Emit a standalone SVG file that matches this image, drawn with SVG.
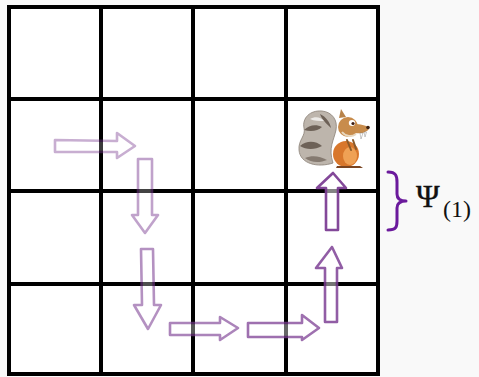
<svg xmlns="http://www.w3.org/2000/svg" width="479" height="377" viewBox="0 0 479 377">
  <defs>
    <style>
      .grid { stroke: #000; stroke-width: 4; fill: none; stroke-linecap: square; }
      .arrow { fill: #ffffff; fill-opacity: 0.55; stroke: #7d3f94; stroke-width: 2.6; stroke-linejoin: round; }
      .brace { fill: none; stroke: #6b1a9c; stroke-width: 3; stroke-linecap: round; stroke-linejoin: round; }
      .math { font-family: "Liberation Serif", "DejaVu Serif", serif; fill: #111; }
    </style>
  </defs>

  <!-- page background and board -->
  <rect x="0" y="0" width="479" height="377" fill="#f9f9f9"/>
  <rect x="9" y="7" width="369" height="367" fill="#ffffff"/>

  <!-- 4x4 board -->
  <g id="board" class="grid">
    <rect x="9" y="7" width="369" height="367"/>
    <line x1="101" y1="7" x2="101" y2="374"/>
    <line x1="193" y1="7" x2="193" y2="374"/>
    <line x1="286" y1="7" x2="286" y2="374"/>
    <line x1="9" y1="99" x2="378" y2="99"/>
    <line x1="9" y1="191" x2="378" y2="191"/>
    <line x1="9" y1="284" x2="378" y2="284"/>
  </g>

  <!-- path of moves, fading in towards the goal -->
  <g id="connectors">
    <polygon id="move1" class="arrow" opacity="0.42" points="55,140 117,141 117,133 135,146 117,158 117,152 55,152"/>
    <polygon id="move2" class="arrow" opacity="0.48" points="138,159 152,159 152,215 158,215 145,233 132,215 138,215"/>
    <polygon id="move3" class="arrow" opacity="0.57" points="141,249 153,249 154,305 161,305 148,329 134,305 142,305"/>
    <polygon id="move4" class="arrow" opacity="0.64" points="170,323 220,323 220,317 238,328 220,340 220,335 170,335"/>
    <polygon id="move5" class="arrow" opacity="0.74" points="248,323 302,323 302,315 319,328 302,340 302,337 248,337"/>
    <polygon id="move6" class="arrow" opacity="0.84" points="325,322 337,322 337,268 342,268 332,247 316,268 325,268"/>
    <polygon id="move7" class="arrow" opacity="0.95" points="326,230 338,230 338,188 346,188 333,173 317,188 326,188"/>
  </g>

  <!-- squirrel at the goal cell -->
  <g id="squirrel">
    <!-- tail -->
    <path d="M333,163 C318,168 300,164 299,150 C298,140 306,136 304,128 C302,118 310,110 322,111 C332,112 338,120 336,130 C334,140 328,148 333,163 Z" fill="#bdb5ac" stroke="#8a8076" stroke-width="0.8"/>
    <path d="M304,130 C309,125 316,124 322,127 C318,131 311,132 304,130 Z" fill="#6d6157"/>
    <path d="M300,146 C307,140 316,141 322,146 C315,150 306,150 300,146 Z" fill="#6d6157"/>
    <path d="M320,114 C326,117 330,122 331,128 C327,124 322,120 320,114 Z" fill="#6d6157"/>
    <path d="M305,158 C312,155 320,156 327,160 C320,163 311,163 305,158 Z" fill="#857a70"/>
    <path d="M310,119 C315,116 321,117 324,121 C319,121 314,121 310,119 Z" fill="#ffffff" opacity="0.7"/>
    <!-- body -->
    <ellipse cx="346" cy="154" rx="13" ry="13" fill="#d8772c"/>
    <ellipse cx="350" cy="156" rx="7" ry="9" fill="#efa155"/>
    <path d="M337,166 L360,166 L363,168 L336,168 Z" fill="#7a4420"/>
    <!-- arms -->
    <path d="M347,140 L351,150 M353,140 L356,149" stroke="#8a5a2a" stroke-width="2" fill="none" stroke-linecap="round"/>
    <!-- head -->
    <path d="M339,118 L341,109 L346,117 Z" fill="#b8834a"/>
    <ellipse cx="348" cy="127" rx="10" ry="10" fill="#c88c4c"/>
    <path d="M354,124 C360,124 366,125 369,128 C368,132 362,134 355,133 Z" fill="#c88c4c"/>
    <circle cx="368" cy="127.5" r="1.8" fill="#3a2010"/>
    <ellipse cx="352" cy="123" rx="3.2" ry="3" fill="#ffffff"/>
    <circle cx="353" cy="123.5" r="1.6" fill="#3a1a10"/>
    <path d="M360,133 L361,139 L363,133 Z M364,132 L365,137 L366.5,132 Z" fill="#ffffff" stroke="#777" stroke-width="0.4"/>
    <path d="M342,132 C346,137 352,137 356,134" stroke="#e8d8c0" stroke-width="2" fill="none"/>
  </g>

  <!-- brace marking one step, with its label -->
  <g id="label-psi">
    <path class="brace" d="M388,172 C396,172 397,176 397,182 L397,194 C397,199 400,201 406,201 C400,201 397,203 397,208 L397,221 C397,227 396,230 388,230"/>
    <text class="math" x="416" y="207" font-size="32" stroke="#111" stroke-width="0.4">Ψ</text>
    <text class="math" x="443" y="217" font-size="24">(1)</text>
  </g>
</svg>
